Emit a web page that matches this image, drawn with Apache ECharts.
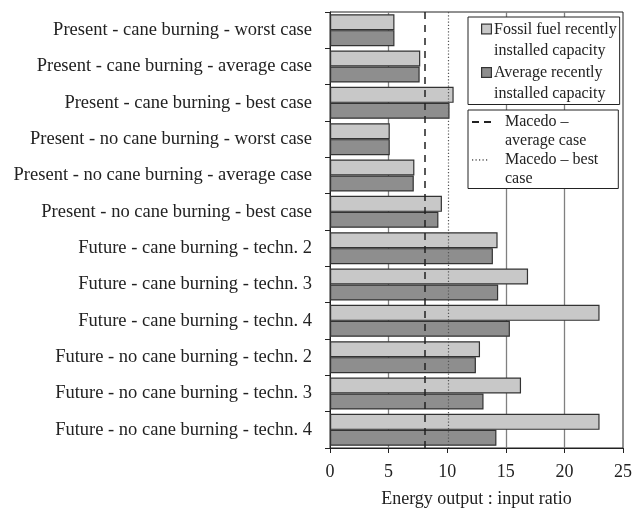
<!DOCTYPE html>
<html><head><meta charset="utf-8">
<script src="https://cdn.jsdelivr.net/npm/echarts@6/dist/echarts.min.js"></script>
<style>html,body{margin:0;padding:0;background:#fff}#c{width:635px;height:513px}</style>
</head><body><div id="c"></div>
<script>
const categories = [
  'Present - cane burning - worst case',
  'Present - cane burning - average case',
  'Present - cane burning - best case',
  'Present - no cane burning - worst case',
  'Present - no cane burning - average case',
  'Present - no cane burning - best case',
  'Future - cane burning - techn. 2',
  'Future - cane burning - techn. 3',
  'Future - cane burning - techn. 4',
  'Future - no cane burning - techn. 2',
  'Future - no cane burning - techn. 3',
  'Future - no cane burning - techn. 4'
];
const fossilFuel = [5.5, 7.7, 10.55, 5.1, 7.2, 9.55, 14.3, 16.9, 23.0, 12.8, 16.3, 23.0];
const averageCap = [5.5, 7.65, 10.2, 5.1, 7.15, 9.25, 13.9, 14.35, 15.35, 12.45, 13.1, 14.2];
const macedoAverage = 8.1;
const macedoBest = 10.1;
const gridValues = [5, 15, 20];

const serif = 'Liberation Serif';
const chart = echarts.init(document.getElementById('c'), null, {renderer: 'canvas'});
const fossilName = 'Fossil fuel recently\ninstalled capacity';
const avgName = 'Average recently\ninstalled capacity';
const macAvgName = 'Macedo –\naverage case';
const macBestName = 'Macedo – best\ncase';

const lightFill = '#c8c8c8', darkFill = '#8e8e8e', edge = '#333';

function svgIcon(w, h, body) {
  return 'image://data:image/svg+xml;charset=utf-8,' + encodeURIComponent(
    "<svg xmlns='http://www.w3.org/2000/svg' width='" + w + "' height='" + h + "' viewBox='0 0 " + w + " " + h + "'>" + body + "</svg>");
}
const squareIcon = fill => svgIcon(11, 42,
  "<rect x='0.6' y='5.1' width='9.8' height='9.8' fill='" + fill + "' stroke='" + edge + "' stroke-width='1.2'/>");
const dashIcon = svgIcon(20, 38,
  "<rect x='0' y='8.5' width='7' height='2' fill='#222'/><rect x='12' y='8.5' width='7' height='2' fill='#222'/>");
const dotIcon = svgIcon(20, 38,
  [0, 3.5, 7, 10.5, 14].map(x => "<rect x='" + x + "' y='8.7' width='1.2' height='1.5' fill='#555'/>").join(''));

chart.setOption({
  animation: false,
  textStyle: {fontFamily: serif},
  grid: {left: 330, right: 10, top: 12, bottom: 62, show: true, borderColor: '#222', borderWidth: 1},
  legend: [
    {
      data: [{name: fossilName, icon: squareIcon(lightFill)}, {name: avgName, icon: squareIcon(darkFill)}],
      orient: 'vertical', left: 468, top: 17,
      itemWidth: 11, itemHeight: 42, itemGap: 1.5,
      borderColor: '#222', borderWidth: 1, padding: [2, 3, 0, 13],
      textStyle: {fontFamily: serif, fontSize: 16, color: '#222', lineHeight: 21, padding: [0, 0, 0, -3]},
      backgroundColor: '#fff'
    },
    {
      data: [{name: macAvgName, icon: dashIcon}, {name: macBestName, icon: dotIcon}],
      orient: 'vertical', left: 468, top: 110,
      itemWidth: 20, itemHeight: 38, itemGap: 0,
      borderColor: '#222', borderWidth: 1, padding: [2.5, 20, 0, 4],
      textStyle: {fontFamily: serif, fontSize: 16, color: '#222', lineHeight: 19, padding: [0, 0, 0, 8]},
      backgroundColor: '#fff'
    }
  ],
  xAxis: {
    type: 'value', min: 0, max: 25, interval: 5,
    name: 'Energy output : input ratio', nameLocation: 'middle', nameGap: 42,
    nameTextStyle: {fontFamily: serif, fontSize: 18, color: '#222'},
    axisLine: {show: true, lineStyle: {color: '#222', width: 1}},
    axisTick: {show: true, length: 5, lineStyle: {color: '#222'}},
    axisLabel: {fontFamily: serif, fontSize: 18, color: '#222', margin: 15},
    splitLine: {show: false}
  },
  yAxis: {
    type: 'category', data: categories, inverse: true,
    axisLine: {show: true, lineStyle: {color: '#222'}},
    axisTick: {show: true, length: 5, lineStyle: {color: '#222'}},
    axisLabel: {fontFamily: serif, fontSize: 18.5, color: '#222', margin: 18}
  },
  series: [
    {
      type: 'line', name: 'grid', data: [], z: 0, silent: true,
      markLine: {
        z: 0, silent: true, symbol: 'none', label: {show: false},
        lineStyle: {color: '#808080', type: 'solid', width: 1.3},
        data: gridValues.map(v => ({xAxis: v}))
      }
    },
    {
      type: 'bar', name: fossilName, data: fossilFuel, z: 2,
      barGap: '0%', barCategoryGap: '12%',
      itemStyle: {color: lightFill, borderColor: edge, borderWidth: 1.2}
    },
    {
      type: 'bar', name: avgName, data: averageCap, z: 2,
      barGap: '0%', barCategoryGap: '12%',
      itemStyle: {color: darkFill, borderColor: edge, borderWidth: 1.2}
    },
    {
      type: 'line', name: macAvgName, data: [], z: 3, symbol: 'none',
      lineStyle: {color: '#222', type: [7, 6], width: 1.5},
      markLine: {
        z: 6, silent: true, symbol: 'none', label: {show: false},
        lineStyle: {color: '#222', type: [7, 6], width: 1.5},
        data: [{xAxis: macedoAverage}]
      }
    },
    {
      type: 'line', name: macBestName, data: [], z: 3, symbol: 'none',
      lineStyle: {color: '#555', type: [1.2, 2], width: 1.2},
      markLine: {
        z: 6, silent: true, symbol: 'none', label: {show: false},
        lineStyle: {color: '#555', type: [1.2, 2], width: 1.2},
        data: [{xAxis: macedoBest}]
      }
    }
  ]
});
</script></body></html>
